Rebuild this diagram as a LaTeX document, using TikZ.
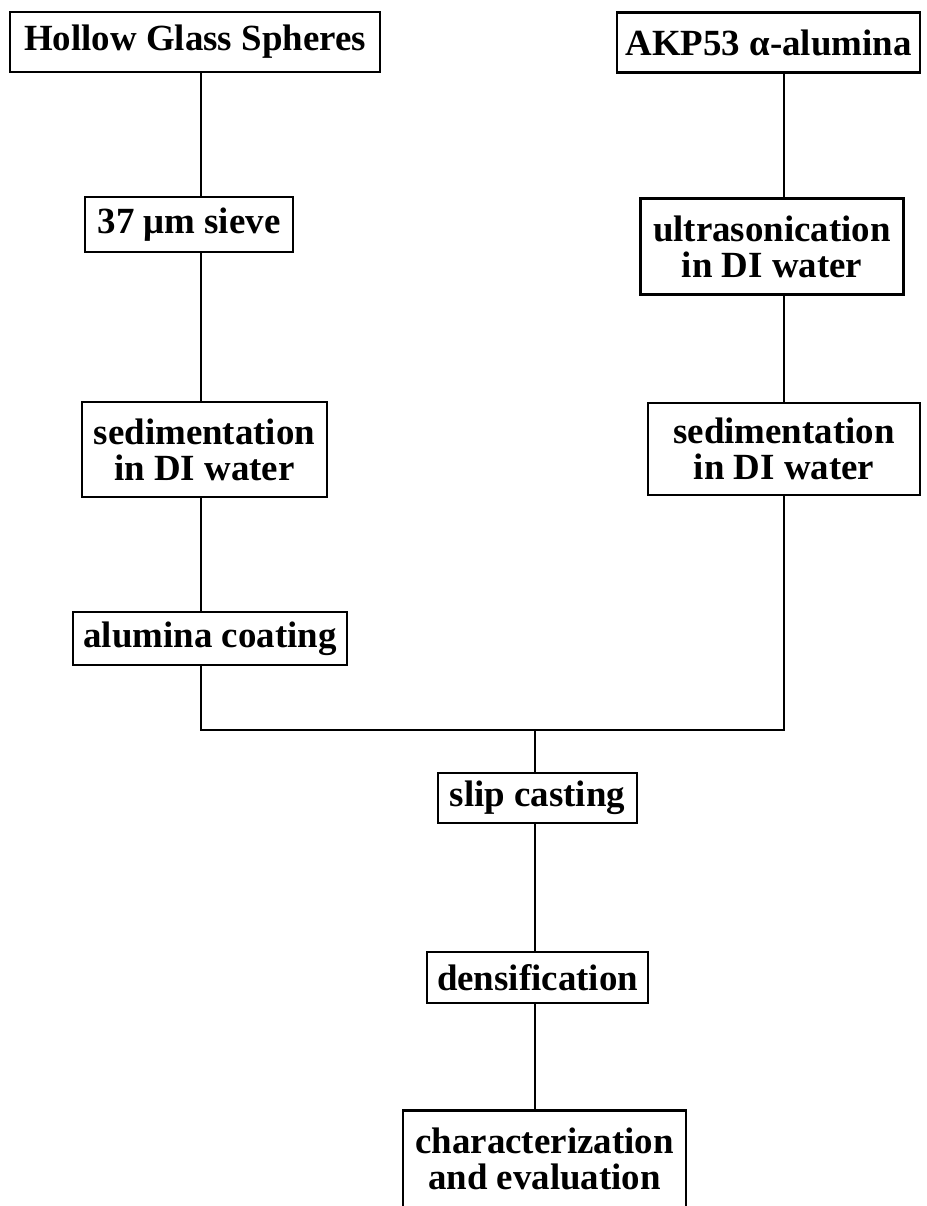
\documentclass[tikz,border=0pt]{standalone}
\usepackage{fontspec}
\setmainfont{Liberation Serif}
\usepackage{tikz}
\usetikzlibrary{positioning, calc}

\begin{document}
\begin{tikzpicture}[
    proc/.style={draw, line width=0.75pt, fill=white, inner sep=2pt, align=center, font=\bfseries\fontsize{10.5}{10.2}\selectfont},
    link/.style={line width=0.65pt}
]
    \useasboundingbox (0,0) rectangle (9.27,-12.06);
    \clip (0,0) rectangle (9.27,-12.06);
    % Branch columns and junction
    \coordinate (lx) at (2.01,0);
    \coordinate (rx) at (7.84,0);
    \coordinate (jn) at (5.35,-7.30);

    % Starting materials
    \node[proc, minimum width=3.70cm, minimum height=0.60cm] (hgs) at (1.95,-0.42) {Hollow Glass Spheres};
    \node[proc, minimum width=3.03cm, minimum height=0.60cm] (akp) at (7.685,-0.425) {AKP53 α-alumina};

    % Glass sphere branch
    \node[proc, minimum width=2.08cm, minimum height=0.55cm] (sieve) at (1.89,-2.245) {37 μm sieve};
    \node[proc, minimum width=2.45cm, minimum height=0.95cm] (sedL) at (2.045,-4.495) {sedimentation\\in DI water};
    \node[proc, minimum width=2.74cm, minimum height=0.53cm] (coat) at (2.10,-6.385) {alumina coating};

    % Alumina branch
    \node[proc, minimum width=2.63cm, minimum height=0.96cm] (ultra) at (7.72,-2.465) {ultrasonication\\in DI water};
    \node[proc, minimum width=2.72cm, minimum height=0.92cm] (sedR) at (7.84,-4.49) {sedimentation\\in DI water};

    % Common route
    \node[proc, minimum width=1.99cm, minimum height=0.50cm] (slip) at (5.375,-7.98) {slip casting};
    \node[proc, minimum width=2.21cm, minimum height=0.51cm] (dens) at (5.375,-9.775) {densification};
    \node[proc, minimum width=2.83cm, minimum height=0.97cm] (char) at (5.445,-11.59) {characterization\\and evaluation};

    % Connections
    \draw[link] (hgs.south -| lx) -- (sieve.north -| lx);
    \draw[link] (sieve.south -| lx) -- (sedL.north -| lx);
    \draw[link] (sedL.south -| lx) -- (coat.north -| lx);
    \draw[link] (akp.south -| rx) -- (ultra.north -| rx);
    \draw[link] (ultra.south -| rx) -- (sedR.north -| rx);
    \draw[link] (coat.south -| lx) |- (jn);
    \draw[link] (sedR.south -| rx) |- (jn);
    \draw[link] (jn) -- (slip.north -| jn);
    \draw[link] (slip.south -| jn) -- (dens.north -| jn);
    \draw[link] (dens.south -| jn) -- (char.north -| jn);
\end{tikzpicture}
\end{document}
